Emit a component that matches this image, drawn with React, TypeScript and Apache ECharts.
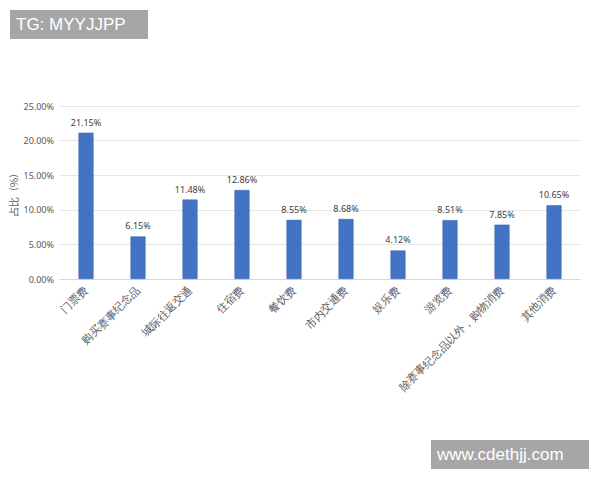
import React, { useEffect, useRef } from "react";
import * as echarts from "echarts";

const categories = [
  "门票费",
  "购买赛事纪念品",
  "城际往返交通",
  "住宿费",
  "餐饮费",
  "市内交通费",
  "娱乐费",
  "游览费",
  "除赛事纪念品以外，购物消费",
  "其他消费",
];
const values = [21.15, 6.15, 11.48, 12.86, 8.55, 8.68, 4.12, 8.51, 7.85, 10.65];
const yTicks = [0, 5, 10, 15, 20, 25];

export default function App() {
  const ref = useRef<HTMLDivElement>(null);
  useEffect(() => {
    if (!ref.current) return;
    const chart = echarts.init(ref.current, null, { renderer: "svg" });
    chart.setOption({
      animation: false,
      backgroundColor: "#ffffff",
      grid: { left: 60, right: 20, top: 106, bottom: 201, containLabel: false },
      xAxis: {
        type: "category",
        data: categories,
        axisLine: { show: true, lineStyle: { color: "#d9d9d9" } },
        axisTick: { show: false },
        axisLabel: {
          rotate: 45,
          interval: 0,
          color: "#595959",
          fontSize: 11,
          fontFamily: "serif",
          margin: 9,
        },
      },
      yAxis: {
        type: "value",
        min: yTicks[0],
        max: yTicks[yTicks.length - 1],
        interval: 5,
        name: "占比（%）",
        nameLocation: "middle",
        nameGap: 42,
        nameRotate: 90,
        nameMoveOverlap: false,
        nameTextStyle: { color: "#595959", fontSize: 10, fontFamily: "Noto Sans CJK SC" },
        axisLine: { show: false },
        axisTick: { show: false },
        axisLabel: {
          color: "#595959",
          fontSize: 9,
          fontFamily: "Noto Sans",
          formatter: (v: number) => v.toFixed(2) + "%",
          margin: 6,
        },
        splitLine: { lineStyle: { color: "#e6e6e6" } },
      },
      series: [
        {
          type: "bar",
          data: values,
          barWidth: 15,
          itemStyle: { color: "#4472C4", borderColor: "#3a63ad", borderWidth: 0.5 },
          label: {
            show: true,
            position: "top",
            distance: 6,
            color: "#404040",
            fontSize: 9,
            fontFamily: "Noto Sans",
            formatter: (p: any) => p.value.toFixed(2) + "%",
          },
        },
      ],
      graphic: [
        {
          type: "rect",
          shape: { x: 10, y: 10, width: 138, height: 29 },
          style: { fill: "#a6a6a6" },
        },
        {
          type: "text",
          x: 16,
          y: 24.5,
          style: {
            text: "TG: MYYJJPP",
            fill: "#ffffff",
            fontSize: 17,
            fontFamily: "Liberation Sans",
            verticalAlign: "middle",
          },
        },
        {
          type: "rect",
          shape: { x: 431, y: 440, width: 158, height: 29 },
          style: { fill: "#a6a6a6" },
        },
        {
          type: "text",
          x: 437,
          y: 454.5,
          style: {
            text: "www.cdethjj.com",
            fill: "#ffffff",
            fontSize: 17,
            fontFamily: "Liberation Sans",
            verticalAlign: "middle",
          },
        },
      ],
    });
    return () => chart.dispose();
  }, []);
  return <div ref={ref} style={{ width: 600, height: 480, position: "absolute", left: 0, top: 0 }} />;
}
